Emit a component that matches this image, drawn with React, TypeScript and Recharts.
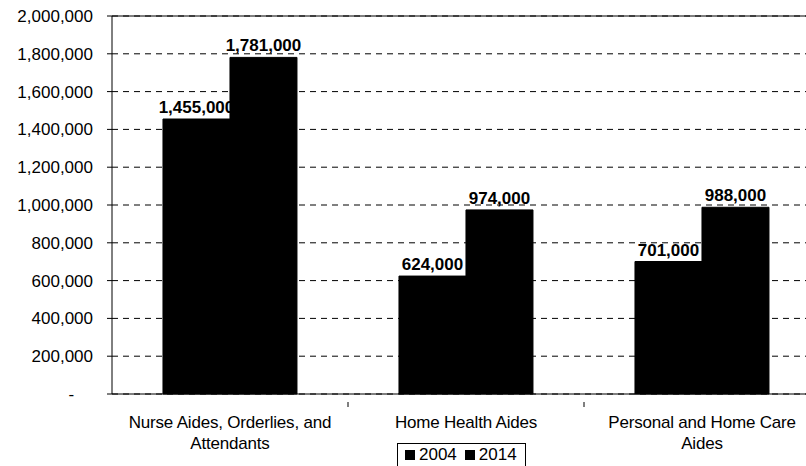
import { BarChart, Bar, XAxis, YAxis, CartesianGrid, Legend, LabelList, ReferenceLine } from 'recharts';

const categories = ['Nurse Aides, Orderlies, and\nAttendants', 'Home Health Aides', 'Personal and Home Care\nAides'];
const values2004 = [1455000, 624000, 701000];
const values2014 = [1781000, 974000, 988000];
const yTicks = [0, 200000, 400000, 600000, 800000, 1000000, 1200000, 1400000, 1600000, 1800000, 2000000];
const seriesNames = ['2004', '2014'];

const data = categories.map((name, i) => ({ name, v2004: values2004[i], v2014: values2014[i] }));

const font = 'Arial, "Liberation Sans", sans-serif';
const fmt = (v: number) => v.toLocaleString('en-US');

function CategoryTick(props: any) {
  const { x, y, payload } = props;
  const lines = String(payload.value).split('\n');
  const half = payload.offset ?? 118;
  return (
    <g>
      <line x1={x + half} x2={x + half} y1={y} y2={y + 5} stroke="#000" />
      <text x={x} y={y + 26} textAnchor="middle" fontSize={17} fontFamily={font} fill="#000" letterSpacing={-0.2}>
        {lines.map((l, i) => (
          <tspan key={i} x={x} dy={i === 0 ? 0 : 21}>{l}</tspan>
        ))}
      </text>
    </g>
  );
}

function LegendBox() {
  return (
    <div style={{ border: '1px solid #000', background: '#fff', fontFamily: font, fontSize: 17, display: 'flex', alignItems: 'center', gap: 8, padding: '1px 8px 1px 7px', height: 24, boxSizing: 'border-box' }}>
      {seriesNames.map((s) => (
        <span key={s} style={{ display: 'flex', alignItems: 'center', gap: 4 }}>
          <span style={{ width: 10, height: 10, background: '#000', display: 'inline-block' }} />
          {s}
        </span>
      ))}
    </div>
  );
}

export default function App() {
  return (
    <div style={{ position: 'absolute', left: 0, top: 0, width: 806, height: 466, overflow: 'hidden', background: '#fff' }}>
      <BarChart width={830} height={466} data={data} margin={{ top: 16, right: 10, bottom: 12, left: 0 }} barCategoryGap="21.6%" barGap={0}>
        <CartesianGrid vertical={false} stroke="#000" strokeDasharray="6 5" />
        <ReferenceLine y={2000000} stroke="#000" />
        <XAxis dataKey="name" height={60} axisLine={{ stroke: '#000' }} tickLine={false} tick={<CategoryTick />} interval={0} />
        <YAxis
          width={112}
          domain={[0, 2000000]}
          ticks={yTicks}
          interval={0}
          tickFormatter={(v: number) => (v === 0 ? '-\u00A0\u00A0\u00A0\u00A0' : fmt(v))}
          axisLine={{ stroke: '#000' }}
          tickLine={{ stroke: '#000' }}
          tickSize={5}
          tickMargin={14}
          tick={{ fill: '#000', fontSize: 17, fontFamily: font }}
        />
        <Legend
          layout="vertical"
          align="center"
          verticalAlign="middle"
          content={<LegendBox />}
          wrapperStyle={{ position: 'absolute', left: 397, top: 443, width: 'auto' }}
        />
        <Bar dataKey="v2004" name="2004" fill="#000" stroke="#000" strokeWidth={1} isAnimationActive={false}>
          <LabelList dataKey="v2004" position="top" offset={6} formatter={(v: any) => fmt(Number(v))} style={{ fontWeight: 'bold', fontSize: 17, fontFamily: font, fill: '#000', stroke: 'none' }} />
        </Bar>
        <Bar dataKey="v2014" name="2014" fill="#000" stroke="#000" strokeWidth={1} isAnimationActive={false}>
          <LabelList dataKey="v2014" position="top" offset={6} formatter={(v: any) => fmt(Number(v))} style={{ fontWeight: 'bold', fontSize: 17, fontFamily: font, fill: '#000', stroke: 'none' }} />
        </Bar>
      </BarChart>
    </div>
  );
}
